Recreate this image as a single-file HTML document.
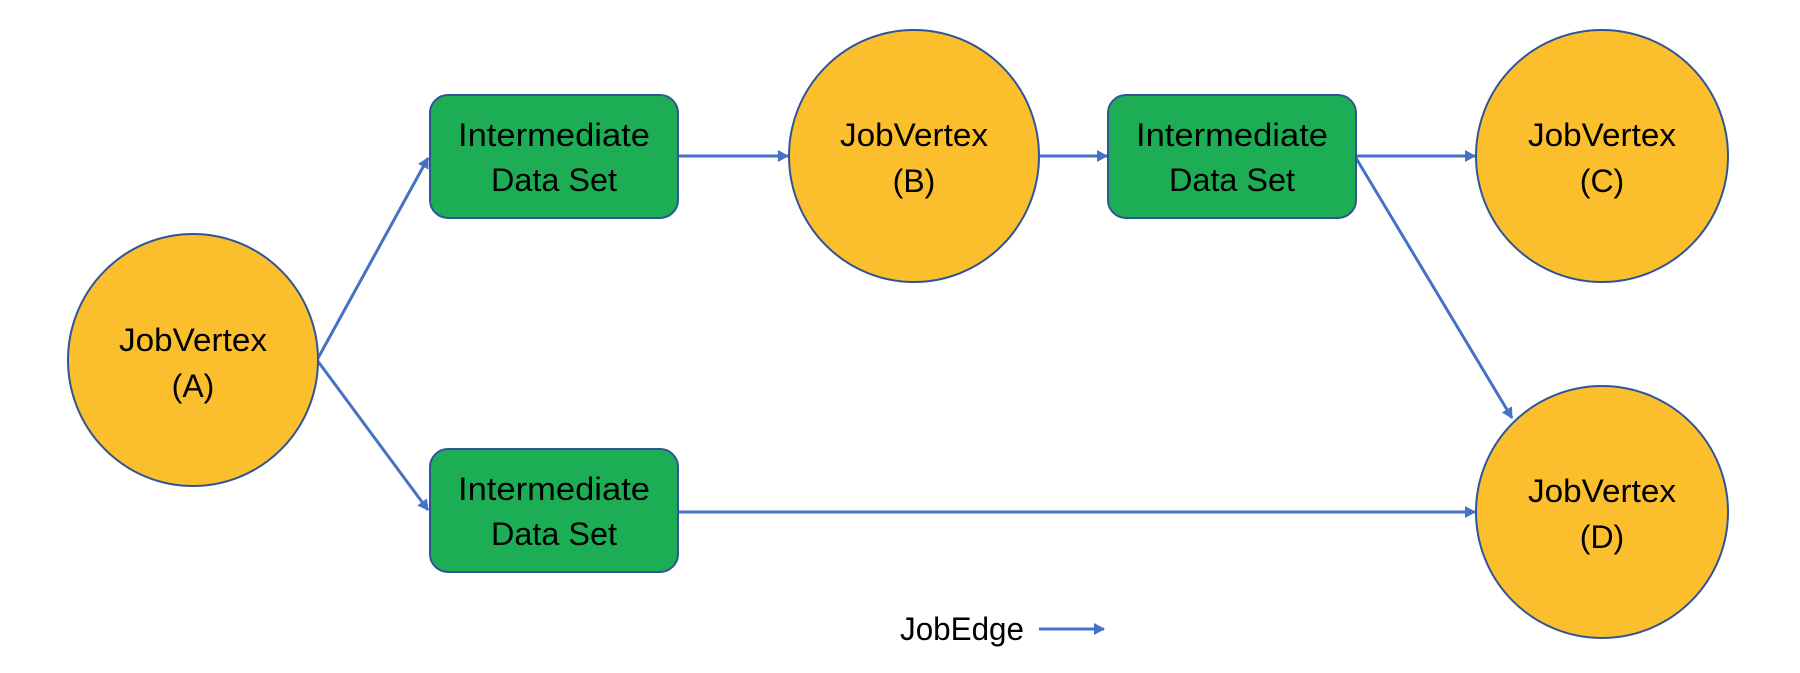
<!DOCTYPE html>
<html><head><meta charset="utf-8"><style>html,body{margin:0;padding:0;background:#fff}svg{display:block}</style></head>
<body>
<svg width="1800" height="673" viewBox="0 0 1800 673" xmlns="http://www.w3.org/2000/svg" font-family="Liberation Sans, sans-serif" font-size="32" text-anchor="middle">
<defs>
<marker id="ar" markerWidth="12" markerHeight="12" refX="10" refY="6" orient="auto" markerUnits="userSpaceOnUse">
<path d="M0,0 L11,6 L0,12 Z" fill="#4472C4"/>
</marker>
</defs>
<g stroke="#4472C4" stroke-width="3" fill="none" marker-end="url(#ar)">
<line x1="317" y1="360" x2="428" y2="158"/>
<line x1="317" y1="360" x2="428" y2="510"/>
<line x1="678" y1="156" x2="788" y2="156"/>
<line x1="1040" y1="156" x2="1107" y2="156"/>
<line x1="1356" y1="156" x2="1475" y2="156"/>
<line x1="1356" y1="158" x2="1512" y2="418"/>
<line x1="678" y1="512" x2="1475" y2="512"/>
<line x1="1039" y1="629" x2="1104" y2="629"/>
</g>
<g fill="#FBBF2D" stroke="#2F5597" stroke-width="2">
<ellipse cx="193" cy="360" rx="125" ry="126"/>
<ellipse cx="914" cy="156" rx="125" ry="126"/>
<ellipse cx="1602" cy="156" rx="126" ry="126"/>
<ellipse cx="1602" cy="512" rx="126" ry="126"/>
</g>
<g fill="#1DAE55" stroke="#2F5597" stroke-width="2">
<rect x="430" y="95" width="248" height="123" rx="18"/>
<rect x="430" y="449" width="248" height="123" rx="18"/>
<rect x="1108" y="95" width="248" height="123" rx="18"/>
</g>
<g fill="#000">
<text x="554" y="146" textLength="192" lengthAdjust="spacingAndGlyphs">Intermediate</text>
<text x="554" y="191" textLength="126" lengthAdjust="spacingAndGlyphs">Data Set</text>
<text x="554" y="500" textLength="192" lengthAdjust="spacingAndGlyphs">Intermediate</text>
<text x="554" y="545" textLength="126" lengthAdjust="spacingAndGlyphs">Data Set</text>
<text x="1232" y="146" textLength="192" lengthAdjust="spacingAndGlyphs">Intermediate</text>
<text x="1232" y="191" textLength="126" lengthAdjust="spacingAndGlyphs">Data Set</text>
<text x="193" y="351" textLength="148" lengthAdjust="spacingAndGlyphs">JobVertex</text>
<text x="193" y="397">(A)</text>
<text x="914" y="146" textLength="148" lengthAdjust="spacingAndGlyphs">JobVertex</text>
<text x="914" y="192">(B)</text>
<text x="1602" y="146" textLength="148" lengthAdjust="spacingAndGlyphs">JobVertex</text>
<text x="1602" y="192">(C)</text>
<text x="1602" y="502" textLength="148" lengthAdjust="spacingAndGlyphs">JobVertex</text>
<text x="1602" y="548">(D)</text>
<text x="962" y="640" textLength="124" lengthAdjust="spacingAndGlyphs">JobEdge</text>
</g>
</svg>
</body></html>
